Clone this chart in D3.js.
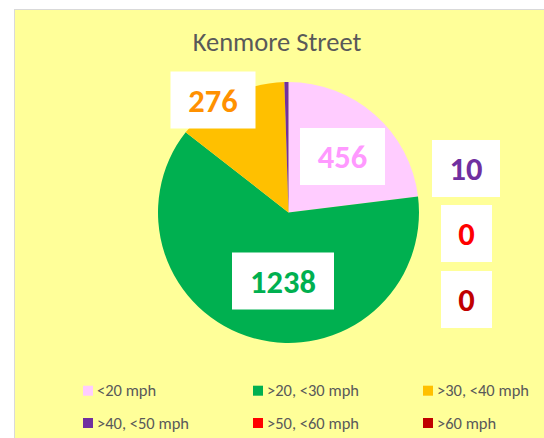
<!DOCTYPE html>
<html><head><meta charset="utf-8">
<script src="https://cdn.jsdelivr.net/npm/d3@7"></script>
<style>
html,body{margin:0;padding:0;background:#fff;}
svg{display:block;}
text{font-family:Carlito, Calibri, Lato, sans-serif;}
</style></head>
<body>
<svg id="chart" width="544" height="438"></svg>
<script>
const categories = ["<20 mph", ">20, <30 mph", ">30, <40 mph", ">40, <50 mph", ">50, <60 mph", ">60 mph"];
const values = [456, 1238, 276, 10, 0, 0];
const sliceColors = ["#FFCCFF", "#00B050", "#FFC000", "#7030A0", "#FF0000", "#C00000"];
const labelColors = ["#FF99FF", "#00B050", "#FF9100", "#7030A0", "#FF0000", "#C00000"];
const title = "Kenmore Street";

// label box layout (center offsets from pie center, box width)
const labelLayout = [
  {dx: 54, dy: -56, w: 85},
  {dx: -5.5, dy: 68.5, w: 102},
  {dx: -75.5, dy: -112.5, w: 85},
  {dx: 177.5, dy: -44, w: 68},
  {dx: 178, dy: 21, w: 51},
  {dx: 178, dy: 87, w: 51}
];

const W = 544, H = 438;
const svg = d3.select("#chart");

// chart area
svg.append("rect").attr("x", 14.5).attr("y", 9.5).attr("width", W).attr("height", H)
  .attr("fill", "#FFFF99").attr("stroke", "#D9D9D9").attr("stroke-width", 1);

svg.append("text").attr("x", 277).attr("y", 51).attr("text-anchor", "middle")
  .attr("font-size", 26.5).attr("fill", "#595959").text(title);

const cx = 288.5, cy = 212.5, R = 130.5;
const pie = d3.pie().sort(null).value(d => d)(values);
const arc = d3.arc().innerRadius(0).outerRadius(R);
const g = svg.append("g").attr("transform", `translate(${cx},${cy})`);
g.selectAll("path").data(pie).join("path")
  .attr("d", arc).attr("fill", (d, i) => sliceColors[i]);

const lab = g.selectAll("g.lab").data(pie).join("g").attr("class", "lab")
  .attr("transform", (d, i) => `translate(${labelLayout[i].dx},${labelLayout[i].dy})`);
lab.append("rect").attr("x", (d, i) => -labelLayout[i].w / 2).attr("y", -28.5)
  .attr("width", (d, i) => labelLayout[i].w).attr("height", 57).attr("fill", "#fff");
lab.append("text").attr("text-anchor", "middle").attr("y", 11.5)
  .attr("font-size", 32.5).attr("font-weight", 900)
  .attr("fill", (d, i) => labelColors[i]).text(d => d.data);

// legend
const legX = [83, 253, 423], legY = [390.7, 423];
const leg = svg.selectAll("g.leg").data(categories).join("g").attr("class", "leg")
  .attr("transform", (d, i) => `translate(${legX[i % 3]},${legY[Math.floor(i / 3)]})`);
leg.append("rect").attr("x", 0).attr("y", -5).attr("width", 10).attr("height", 10)
  .attr("fill", (d, i) => sliceColors[i]);
leg.append("text").attr("x", 14).attr("y", 5.5).attr("font-size", 16.5)
  .attr("fill", "#595959").text(d => d);
</script>
</body></html>
